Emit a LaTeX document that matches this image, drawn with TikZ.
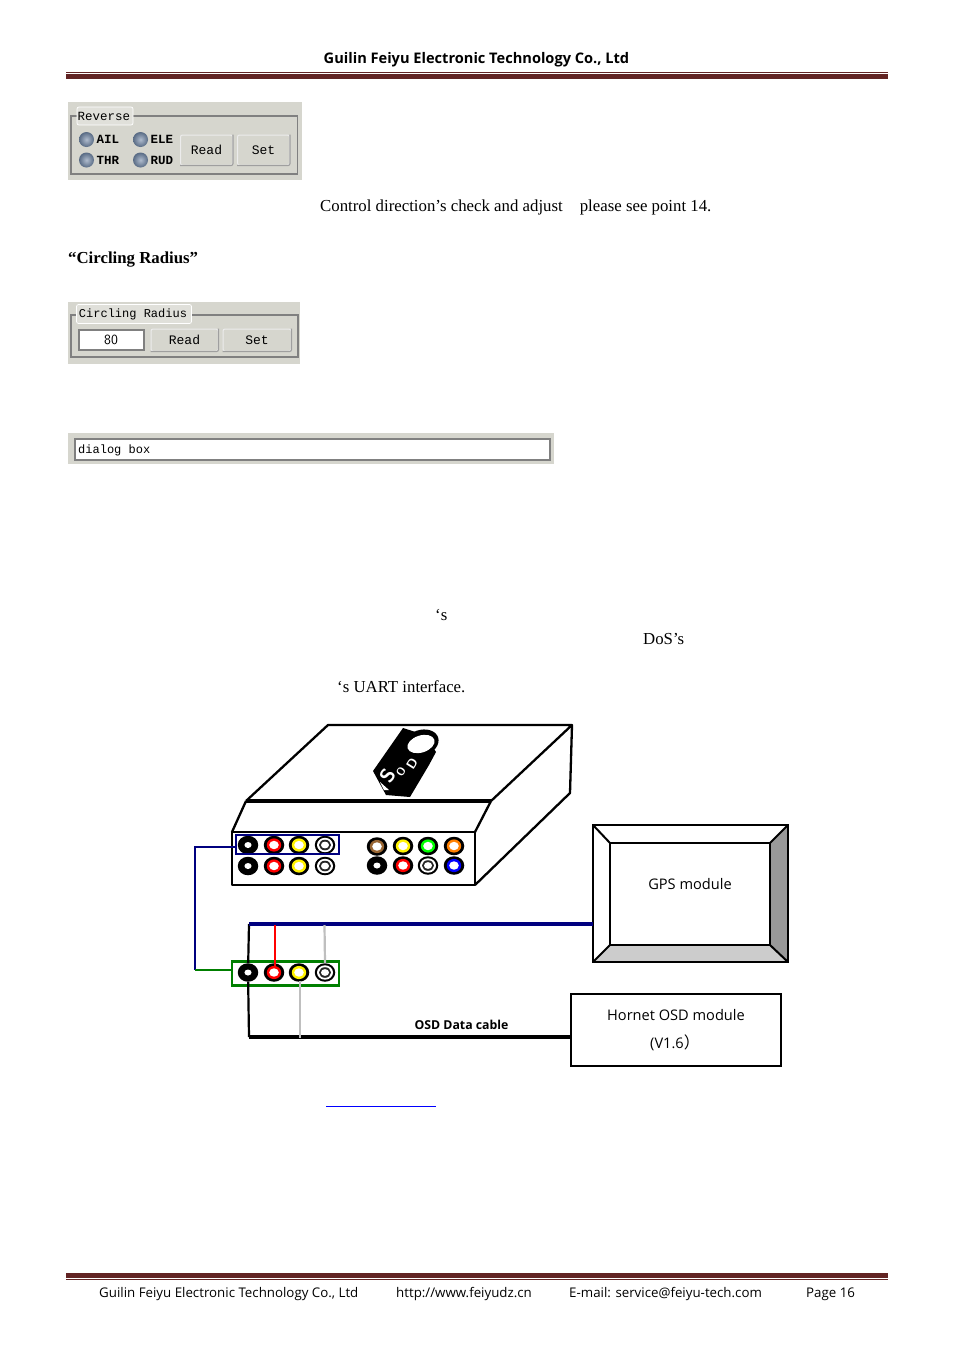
\documentclass[tikz,border=0pt]{standalone}
\usepackage{fontspec}
\setmainfont{Liberation Serif}
\newfontfamily\uif{Open Sans}
\newfontfamily\cjkf{Noto Sans CJK SC}
\newfontfamily\pixf{Liberation Mono}
\usetikzlibrary{calc,shapes.geometric}
\definecolor{panel}{HTML}{D6D6CE}
\definecolor{frameg}{HTML}{808080}
\definecolor{rulered}{HTML}{622423}
\definecolor{navyc}{HTML}{00007F}
\definecolor{greenc}{HTML}{007F00}
\definecolor{radiob}{HTML}{6F86A6}
\tikzset{
 x=1pt,y=-1pt,
 body/.style={anchor=base west,inner sep=0pt,font=\fontsize{16.8}{17}\selectfont},
 uilabel/.style={inner sep=0pt,font=\uif\fontsize{14.6}{16}\selectfont},
 foot/.style={anchor=base west,inner sep=0pt,font=\uif\fontsize{13.3}{16}\selectfont},
 pix/.style={inner sep=0pt,font=\pixf\fontsize{12}{13}\selectfont},
 pixb/.style={inner sep=0pt,font=\pixf\bfseries\fontsize{12.5}{13}\selectfont},
 btn/.style={draw=white!85!gray,fill=panel,rounded corners=2pt,line width=1pt,inner sep=0pt,font=\pixf\fontsize{13}{13}\selectfont},
 shadowl/.style={draw=gray!75,line width=1.2pt,rounded corners=2pt},
 group/.style={draw=frameg,line width=1.6pt},
 tab/.style={draw=white,fill=panel!75!white,rounded corners=2pt,line width=.7pt,inner sep=1.5pt},
 radio/.style={circle,inner color=radiob!55!white,outer color=radiob!80!black,minimum size=15pt,inner sep=0pt},
 line/.style={draw=black,line width=2.3pt,line join=round},
 jackn/.style={ellipse,fill=black,minimum width=20.5pt,minimum height=18.5pt,inner sep=0pt},
 logot/.style={white,inner sep=0pt,rotate=58,font=\sffamily\bfseries\fontsize{#1}{#1}\selectfont},
}
% jacks
\newcommand{\jackc}[4]{% name x y colour
 \node[jackn] (#1) at (#2,#3) {};
 \fill[#4] (#2,#3) ellipse[x radius=7.2pt,y radius=6.6pt];
 \fill[white] (#2,#3) ellipse[x radius=4.8pt,y radius=4.2pt];
}
\newcommand{\jackb}[3]{% name x y
 \node[jackn] (#1) at (#2,#3) {};
 \fill[white] (#2,#3) ellipse[x radius=3.6pt,y radius=3pt];
}
\newcommand{\jackw}[3]{% name x y
 \node[jackn] (#1) at (#2,#3) {};
 \fill[white] (#2,#3) ellipse[x radius=8pt,y radius=7.2pt];
 \fill[black!85] (#2,#3) ellipse[x radius=6pt,y radius=5.3pt];
 \fill[white] (#2,#3) ellipse[x radius=4pt,y radius=3.4pt];
}
\newcommand{\btnshadow}[1]{\draw[shadowl] (#1.north east) -- (#1.south east) -- (#1.south west);}
\begin{document}
\begin{tikzpicture}
\useasboundingbox (0,0) rectangle (954,1350);
\fill[white] (0,0) rectangle (954,1350);
% header
\node[inner sep=0pt,font=\uif\bfseries\fontsize{14.6}{17}\selectfont] (hdr) at (476.5,59.5) {Guilin Feiyu Electronic Technology Co., Ltd};
\fill[rulered] (66,72) rectangle (888,73);
\fill[rulered] (66,74) rectangle (888,79);
% reverse panel
\fill[panel] (68,102) rectangle (302,180);
\draw[group] (71,116) rectangle (297.5,174);
\node[tab,minimum width=56pt,minimum height=18pt] (revt) at (105,116) {};
\node[pix,font=\pixf\fontsize{12.5}{13}\selectfont] (revl) at (104,116) {Reverse};
\node[radio] (r1) at (86.5,139.5) {};
\node[pixb,anchor=west] at (96.5,139) {AIL};
\node[radio] (r2) at (140.5,139.5) {};
\node[pixb,anchor=west] at (150.5,139) {ELE};
\node[radio] (r3) at (86.5,160) {};
\node[pixb,anchor=west] at (96.5,160.5) {THR};
\node[radio] (r4) at (140.5,160) {};
\node[pixb,anchor=west] at (150.5,160.5) {RUD};
\node[btn,minimum width=52pt,minimum height=30pt] (b1) at (206.5,150) {Read};
\btnshadow{b1}
\node[btn,minimum width=52pt,minimum height=30pt] (b2) at (263.5,150) {Set};
\btnshadow{b2}
\node[body] (t1) at (320,211) {Control direction’s check and adjust\hspace{17pt}please see point 14.};
\node[body,font=\bfseries\fontsize{16.8}{17}\selectfont] (t2) at (68,263) {“Circling Radius”};
% circling radius panel
\fill[panel] (68,302) rectangle (300,364);
\draw[group] (71,315) rectangle (298,357);
\node[tab,minimum width=115pt,minimum height=19pt] (crt) at (134,314) {};
\node[pix] (crl) at (133,314) {Circling Radius};
\node[draw=frameg,fill=white,line width=2pt,minimum width=65pt,minimum height=20pt,inner sep=0pt,font=\sffamily\fontsize{14}{14}\selectfont] (val) at (111,339.5) {80};
\node[btn,minimum width=67pt,minimum height=22pt] (b3) at (184.5,340) {Read};
\btnshadow{b3}
\node[btn,minimum width=68pt,minimum height=22pt] (b4) at (257,340) {Set};
\btnshadow{b4}
% dialog
\fill[panel] (68,433) rectangle (554,464);
\node[draw=frameg,fill=white,line width=2pt,minimum width=475pt,minimum height=21pt,inner sep=0pt] (dlg) at (312,449.5) {};
\node[pix,anchor=west] (dlgt) at (78,450) {dialog box};
% body fragments
\node[body] (t3) at (435,620) {‘s};
\node[body] (t4) at (643,644) {DoS’s};
\node[body] (t5) at (337,692) {‘s UART interface.};
% OSD device
\draw[line] (246,801) -- (328,725) -- (572,725) -- (491,801);
\draw[line] (572,725) -- (570,793) -- (475,885);
\draw[line] (232,832) -- (246,801);
\draw[line] (491,801) -- (475,832);
\draw[line width=3.6pt] (246,801) -- (491,801);
\draw[line,line width=2.6pt] (232,832) rectangle (475,885);
% logo
\fill[black] (403,728) -- (373,771) -- (386,795) -- (410,797) -- (429,765) -- (436,752) -- (425,735) -- cycle;
\fill[black,rotate around={18:(421,743)}] (421,743) ellipse[x radius=18pt,y radius=13pt];
\fill[white,rotate around={18:(421,744)}] (421,744) ellipse[x radius=14pt,y radius=8.5pt];
\fill[white] (380,782) -- (389,790) -- (384,790) -- cycle;
\node[logot=20] (logos) at (388,776) {S};
\node[logot=11] (logoo) at (401,772) {O};
\node[logot=13] (logod) at (412,764) {D};
% jacks
\jackb{a1}{248}{845}\jackc{a2}{274}{845}{red}\jackc{a3}{299}{845}{yellow}\jackw{a4}{325}{845}
\jackb{b1j}{248}{866}\jackc{b2j}{274}{866}{red}\jackc{b3j}{299}{866}{yellow}\jackw{b4j}{325}{866}
\jackc{c1}{377}{846.5}{brown!80!black}\jackc{c2}{403}{846}{yellow}\jackc{c3}{428}{846}{green}\jackc{c4}{454}{846}{orange}
\jackb{d1}{377}{865.5}\jackc{d2}{403}{865.5}{red}\jackw{d3}{428}{865.5}\jackc{d4}{454}{865.5}{blue}
\node[draw=navyc,line width=2.3pt,minimum width=103pt,minimum height=19pt,inner sep=0pt] (sel) at (287.5,844.5) {};
% GPS module
\fill[gray!80] (770,843) -- (788,825) -- (788,962) -- (770,945) -- cycle;
\fill[gray!40] (610,945) -- (770,945) -- (788,962) -- (593,962) -- cycle;
\node[draw=black,line width=2.6pt,outer sep=0pt,minimum width=195pt,minimum height=137pt,inner sep=0pt] (gps) at (690.5,893.5) {};
\node[draw=black,line width=2.6pt,outer sep=0pt,minimum width=160pt,minimum height=102pt,inner sep=0pt] (gpsi) at (690,894) {};
\draw[line width=2pt] (gps.north west) -- (gpsi.north west) (gps.north east) -- (gpsi.north east) (gps.south west) -- (gpsi.south west) (gps.south east) -- (gpsi.south east);
\node[uilabel] (gpsl) at (690,884.5) {GPS module};
% Hornet
\node[draw=black,line width=2pt,minimum width=210pt,minimum height=72pt,inner sep=0pt] (hornet) at (676,1030) {};
\node[uilabel] (h1) at (676,1015) {Hornet OSD module};
\node[uilabel,anchor=base west] (h2) at (650,1048) {(V1.6{\cjkf\fontsize{16}{16}\selectfont ）}};
% lower jack row
\jackb{e1}{248}{972.5}\jackc{e2}{274}{972.5}{red}\jackc{e3}{299}{972.5}{yellow}\jackw{e4}{325}{972.5}
\node[draw=greenc,line width=2.5pt,minimum width=107pt,minimum height=24pt,inner sep=0pt] (grp) at (285.5,973.5) {};
% connectors
\coordinate (n1) at (195,847);
\coordinate (n2) at (195,970);
\coordinate (busl) at (249,924);
\coordinate (osdl) at (249,1037);
\draw[navyc,line width=2.3pt,line join=miter] (sel.west |- n1) -- (n1) -- (n2);
\draw[greenc,line width=2.3pt] (n2) -- (grp.west |- n2);
\draw[line width=2.2pt] (busl) -- (e1) (e1) -- (osdl);
\draw[navyc,line width=4pt] (busl) -- (gps.west |- busl);
\draw[line width=4pt] (osdl) -- (hornet.west |- osdl);
\draw[red,line width=2.4pt] (275,925) -- (275,966);
\draw[gray!50,line width=2.2pt] (324.5,925) -- (e4.north);
\draw[gray!50,line width=2.2pt] (300,981) -- (300,1038);
\node[inner sep=0pt,font=\uif\bfseries\fontsize{12.3}{13}\selectfont] (cab) at (461.5,1024.5) {OSD Data cable};
% link underline
\coordinate (u1) at (326,1106.5);
\coordinate (u2) at (436,1106.5);
\draw[blue,line width=.8pt] (u1) -- (u2);
% footer
\fill[rulered] (66,1273) rectangle (888,1278);
\fill[rulered] (66,1279) rectangle (888,1280);
\node[foot] (f1) at (99,1297) {Guilin Feiyu Electronic Technology Co., Ltd};
\node[foot] (f2) at (396,1297) {http://www.feiyudz.cn};
\node[foot] (f3) at (569,1297) {E-mail: service@feiyu-tech.com};
\node[foot] (f4) at (806,1297) {Page 16};
\end{tikzpicture}
\end{document}
